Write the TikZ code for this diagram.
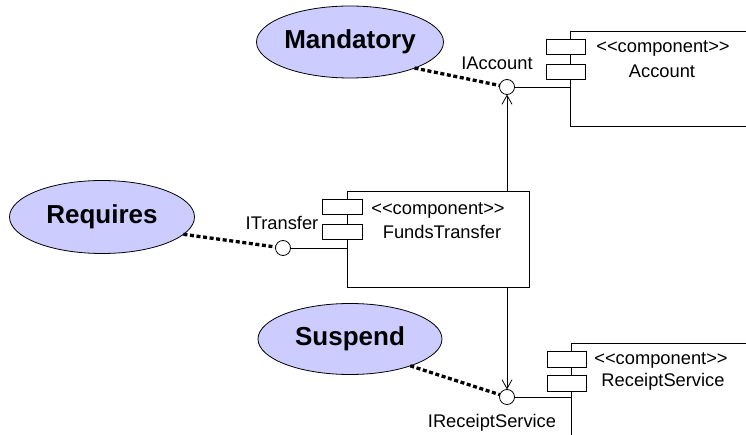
\documentclass[tikz,border=0pt]{standalone}
\usepackage{xcolor}
\usepackage{fontspec}
\setmainfont{Liberation Sans}
\usetikzlibrary{shapes.geometric,arrows.meta}
\definecolor{ellfill}{HTML}{CCCCFF}
\begin{document}
\begin{tikzpicture}[x=1pt,y=-1pt,
  every node/.style={inner sep=0pt, outer sep=0pt},
  note/.style={ellipse, draw=black, line width=0.8pt, fill=ellfill, font=\fontsize{26}{30}\selectfont\bfseries},
  comp/.style={rectangle, draw=black, line width=0.8pt, fill=white, anchor=north west},
  port/.style={rectangle, draw=black, line width=0.8pt, fill=white, minimum width=39pt, minimum height=15pt, anchor=north west},
  lolli/.style={circle, draw=black, fill=white, minimum size=15pt, line width=0.8pt},
  lbl/.style={font=\fontsize{18.3}{22}\selectfont},
  dotline/.style={line width=3.3pt, dash pattern=on 4pt off 2.6pt},
  conn/.style={line width=0.8pt},
  dep/.style={line width=0.8pt, -{Straight Barb[length=9pt,width=10pt]}}
]
\clip (0,0) rectangle (746,435);
\fill[white] (0,0) rectangle (746,435);

% components
\node[comp, minimum width=220pt, minimum height=95pt] (acc) at (570,31) {};
\node[port] (accp1) at (546,39) {};
\node[port] (accp2) at (546,64) {};
\node[lbl] (acct1) at (663,48) {<{}<component>{}>};
\node[lbl] (acct2) at (662,71) {Account};

\node[comp, minimum width=182pt, minimum height=96pt] (ft) at (347,191) {};
\node[port, minimum width=40pt] (ftp1) at (322,199) {};
\node[port, minimum width=40pt] (ftp2) at (322,224) {};
\node[lbl] (ftt1) at (438,210) {<{}<component>{}>};
\node[lbl] (ftt2) at (442,232) {FundsTransfer};

\node[comp, minimum width=220pt, minimum height=120pt] (rs) at (571,343) {};
\node[port, minimum height=16pt] (rsp1) at (547,351) {};
\node[port, minimum height=16pt] (rsp2) at (547,375) {};
\node[lbl] (rst1) at (661,360) {<{}<component>{}>};
\node[lbl] (rst2) at (663,382) {ReceiptService};

% interfaces
\node[lolli] (ia) at (507,87) {};
\node[lolli] (it) at (283,248) {};
\node[lolli] (ir) at (507,397) {};
\node[lbl] (ial) at (497,63) {IAccount};
\node[lbl] (itl) at (282,223) {ITransfer};
\node[lbl] (irl) at (492,423) {IReceiptService};

\draw[conn] (ia) -- (ia -| acc.west);
\draw[conn] (it) -- (it -| ft.west);
\draw[conn] (ir) -- (ir -| rs.west);

\draw[dep] (ft.north -| ia) -- (ia);
\draw[dep] (ft.south -| ir) -- (ir);

% notes
\node[note, minimum width=187pt, minimum height=72pt] (mand) at (350,42) {Mandatory};
\node[note, minimum width=185pt, minimum height=73pt] (req) at (102,217) {Requires};
\node[note, minimum width=184pt, minimum height=71pt] (susp) at (350,339) {Suspend};

\draw[dotline] (mand.-22) -- (ia);
\draw[dotline] (req.-12) -- (it);
\draw[dotline] (susp.-24) -- (ir);
\end{tikzpicture}
\end{document}
